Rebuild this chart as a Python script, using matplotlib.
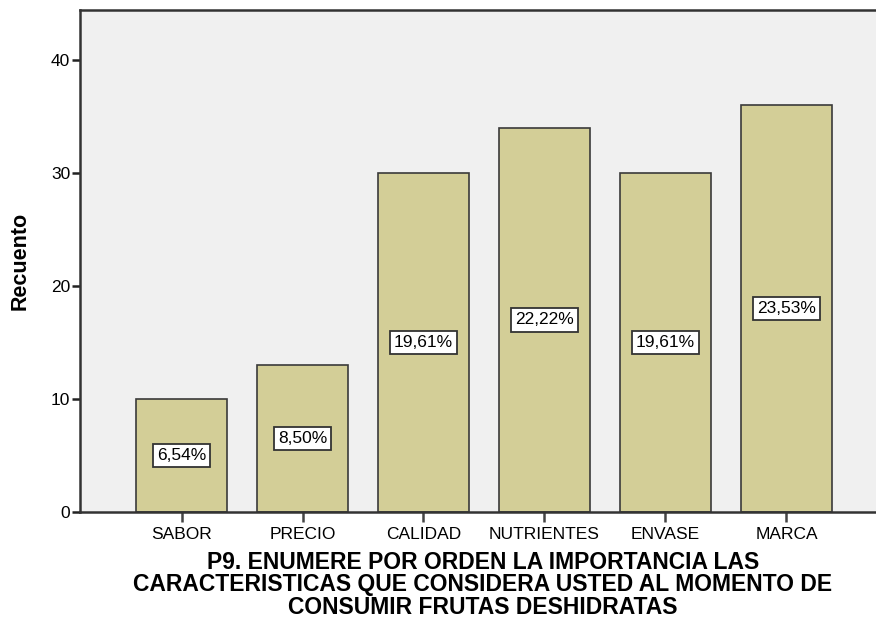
import matplotlib
matplotlib.use("Agg")
import matplotlib.pyplot as plt

plt.rcParams['font.family'] = ['Liberation Sans', 'DejaVu Sans']

categorias = ["SABOR", "PRECIO", "CALIDAD", "NUTRIENTES", "ENVASE", "MARCA"]
recuento = [10, 13, 30, 34, 30, 36]
porcentajes = ["6,54%", "8,50%", "19,61%", "22,22%", "19,61%", "23,53%"]
yticks = [0, 10, 20, 30, 40]

titulo = ("P9. ENUMERE POR ORDEN LA IMPORTANCIA LAS\n"
          "CARACTERISTICAS QUE CONSIDERA USTED AL MOMENTO DE\n"
          "CONSUMIR FRUTAS DESHIDRATAS")

fig = plt.figure(figsize=(8.76, 6.19), dpi=100)
ax = fig.add_axes([80 / 876, 107 / 619, 796 / 876, 502 / 619])
ax.set_facecolor("#F0F0F0")

x = list(range(len(categorias)))
ax.bar(x, recuento, width=0.75, color="#D3CE97", edgecolor="#3A3A3A",
       linewidth=1.2, zorder=2)

for xi, v, p in zip(x, recuento, porcentajes):
    ax.text(xi, v / 2, p, ha="center", va="center", fontsize=12.5, zorder=3,
            bbox=dict(boxstyle="square,pad=0.25", fc="white", ec="#333333", lw=1.3))

ax.set_xlim(-0.839, 5.74)
ax.set_ylim(0, 44.4)
ax.set_xticks(x)
ax.set_xticklabels(categorias, fontsize=12.5)
ax.set_yticks(yticks)
ax.tick_params(axis="y", labelsize=12.5, length=6, width=1.8, pad=1, color="#222222")
ax.tick_params(axis="x", length=7, width=1.8, pad=4, color="#444444")

for s in ["left", "top", "bottom"]:
    ax.spines[s].set_linewidth(1.8)
    ax.spines[s].set_color("#333333")
ax.spines["right"].set_visible(False)

ax.set_ylabel("Recuento", fontsize=15.5, fontweight="bold")
ax.yaxis.set_label_coords(-0.062, 0.5)

fig.text(0.551, (619 - 585) / 619, titulo, ha="center", va="center",
         fontsize=16.5, fontweight="bold", linespacing=0.98)

fig.savefig("out.png", dpi=100)
